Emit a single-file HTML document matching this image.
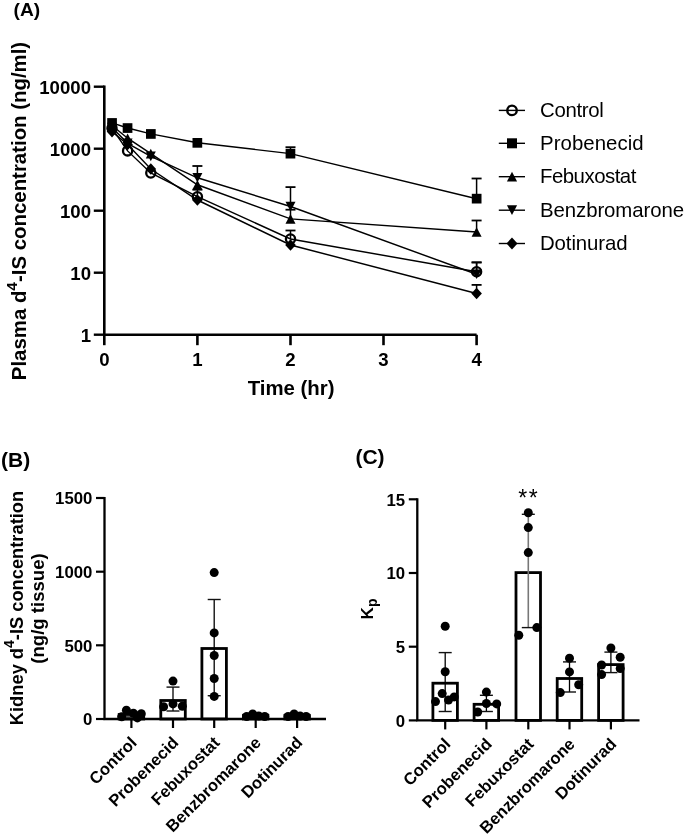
<!DOCTYPE html>
<html><head><meta charset="utf-8"><style>
html,body{margin:0;padding:0;background:#fff;}
svg{display:block;filter:grayscale(1);}
text{font-family:"Liberation Sans",sans-serif;}
</style></head><body>
<svg width="685" height="836" viewBox="0 0 685 836">
<rect width="685" height="836" fill="#fff"/>
<text x="13.5" y="16"  font-weight="bold" font-size="19.2">(A)</text>
<path d="M104.3,85.5 V334.8 H476.62" stroke="#000" stroke-width="2.6" fill="none" stroke-linejoin="miter"/>
<line x1="93.8" y1="86.7" x2="104.3" y2="86.7" stroke="#000" stroke-width="2.4"/>
<text x="91" y="93.8"  font-weight="bold" font-size="18.6" text-anchor="end">10000</text>
<line x1="93.8" y1="148.7" x2="104.3" y2="148.7" stroke="#000" stroke-width="2.4"/>
<text x="91" y="155.8"  font-weight="bold" font-size="18.6" text-anchor="end">1000</text>
<line x1="93.8" y1="210.7" x2="104.3" y2="210.7" stroke="#000" stroke-width="2.4"/>
<text x="91" y="217.8"  font-weight="bold" font-size="18.6" text-anchor="end">100</text>
<line x1="93.8" y1="272.7" x2="104.3" y2="272.7" stroke="#000" stroke-width="2.4"/>
<text x="91" y="279.8"  font-weight="bold" font-size="18.6" text-anchor="end">10</text>
<line x1="93.8" y1="334.7" x2="104.3" y2="334.7" stroke="#000" stroke-width="2.4"/>
<text x="91" y="341.8"  font-weight="bold" font-size="18.6" text-anchor="end">1</text>
<line x1="104.3" y1="334.8" x2="104.3" y2="345.2" stroke="#000" stroke-width="2.6"/>
<text x="104.3" y="366.4"  font-weight="bold" font-size="18.6" text-anchor="middle">0</text>
<line x1="197.4" y1="334.8" x2="197.4" y2="345.2" stroke="#000" stroke-width="2.6"/>
<text x="197.4" y="366.4"  font-weight="bold" font-size="18.6" text-anchor="middle">1</text>
<line x1="290.5" y1="334.8" x2="290.5" y2="345.2" stroke="#000" stroke-width="2.6"/>
<text x="290.5" y="366.4"  font-weight="bold" font-size="18.6" text-anchor="middle">2</text>
<line x1="383.5" y1="334.8" x2="383.5" y2="345.2" stroke="#000" stroke-width="2.6"/>
<text x="383.5" y="366.4"  font-weight="bold" font-size="18.6" text-anchor="middle">3</text>
<line x1="476.6" y1="334.8" x2="476.6" y2="345.2" stroke="#000" stroke-width="2.6"/>
<text x="476.6" y="366.4"  font-weight="bold" font-size="18.6" text-anchor="middle">4</text>
<text x="291.1" y="395.4"  font-weight="bold" font-size="20.4" text-anchor="middle">Time (hr)</text>
<text transform="translate(26.4,211) rotate(-90)"  font-weight="bold" font-size="20.4" text-anchor="middle">Plasma d<tspan font-size="15.5" dy="-9.5">4</tspan><tspan dy="9.5">-IS concentration (ng/ml)</tspan></text>
<line x1="476.6" y1="293.5" x2="476.6" y2="284.9" stroke="#000" stroke-width="1.5"/>
<line x1="471.6" y1="284.9" x2="481.6" y2="284.9" stroke="#000" stroke-width="1.8"/>
<line x1="197.4" y1="196.7" x2="197.4" y2="189.7" stroke="#000" stroke-width="1.5"/>
<line x1="192.4" y1="189.7" x2="202.4" y2="189.7" stroke="#000" stroke-width="1.8"/>
<line x1="290.5" y1="239.0" x2="290.5" y2="230.5" stroke="#000" stroke-width="1.5"/>
<line x1="285.5" y1="230.5" x2="295.5" y2="230.5" stroke="#000" stroke-width="1.8"/>
<line x1="476.6" y1="271.7" x2="476.6" y2="262.4" stroke="#000" stroke-width="1.5"/>
<line x1="471.6" y1="262.4" x2="481.6" y2="262.4" stroke="#000" stroke-width="1.8"/>
<line x1="197.4" y1="177.8" x2="197.4" y2="166.0" stroke="#000" stroke-width="1.5"/>
<line x1="192.4" y1="166.0" x2="202.4" y2="166.0" stroke="#000" stroke-width="1.8"/>
<line x1="290.5" y1="206.5" x2="290.5" y2="187.1" stroke="#000" stroke-width="1.5"/>
<line x1="285.5" y1="187.1" x2="295.5" y2="187.1" stroke="#000" stroke-width="1.8"/>
<line x1="476.6" y1="274.3" x2="476.6" y2="262.4" stroke="#000" stroke-width="1.5"/>
<line x1="471.6" y1="262.4" x2="481.6" y2="262.4" stroke="#000" stroke-width="1.8"/>
<line x1="290.5" y1="218.9" x2="290.5" y2="209.7" stroke="#000" stroke-width="1.5"/>
<line x1="285.5" y1="209.7" x2="295.5" y2="209.7" stroke="#000" stroke-width="1.8"/>
<line x1="476.6" y1="232.0" x2="476.6" y2="220.5" stroke="#000" stroke-width="1.5"/>
<line x1="471.6" y1="220.5" x2="481.6" y2="220.5" stroke="#000" stroke-width="1.8"/>
<line x1="290.5" y1="153.6" x2="290.5" y2="147.2" stroke="#000" stroke-width="1.5"/>
<line x1="285.5" y1="147.2" x2="295.5" y2="147.2" stroke="#000" stroke-width="1.8"/>
<line x1="476.6" y1="198.7" x2="476.6" y2="178.5" stroke="#000" stroke-width="1.5"/>
<line x1="471.6" y1="178.5" x2="481.6" y2="178.5" stroke="#000" stroke-width="1.8"/>
<polyline points="112.0,131.6 127.6,144.5 150.8,169.0 197.4,200.0 290.5,245.0 476.6,293.5" fill="none" stroke="#000" stroke-width="1.45"/>
<polyline points="112.0,128.3 127.6,150.9 150.8,173.0 197.4,196.7 290.5,239.0 476.6,271.7" fill="none" stroke="#000" stroke-width="1.45"/>
<polyline points="112.0,127.5 127.6,143.3 150.8,156.4 197.4,177.8 290.5,206.5 476.6,274.3" fill="none" stroke="#000" stroke-width="1.45"/>
<polyline points="112.0,125.5 127.6,138.2 150.8,153.6 197.4,184.8 290.5,218.9 476.6,232.0" fill="none" stroke="#000" stroke-width="1.45"/>
<polyline points="112.0,122.9 127.6,128.0 150.8,133.9 197.4,142.8 290.5,153.6 476.6,198.7" fill="none" stroke="#000" stroke-width="1.45"/>
<path d="M112.0,125.8 L117.3,131.6 L112.0,137.4 L106.7,131.6Z" fill="#000"/>
<path d="M127.6,138.7 L132.9,144.5 L127.6,150.3 L122.3,144.5Z" fill="#000"/>
<path d="M150.8,163.2 L156.1,169.0 L150.8,174.8 L145.5,169.0Z" fill="#000"/>
<path d="M197.4,194.2 L202.7,200.0 L197.4,205.8 L192.1,200.0Z" fill="#000"/>
<path d="M290.5,239.2 L295.8,245.0 L290.5,250.8 L285.2,245.0Z" fill="#000"/>
<path d="M476.6,287.7 L481.9,293.5 L476.6,299.3 L471.3,293.5Z" fill="#000"/>
<circle cx="112.0" cy="128.3" r="4.60" fill="none" stroke="#000" stroke-width="2.30"/>
<circle cx="127.6" cy="150.9" r="4.60" fill="none" stroke="#000" stroke-width="2.30"/>
<circle cx="150.8" cy="173.0" r="4.60" fill="none" stroke="#000" stroke-width="2.30"/>
<circle cx="197.4" cy="196.7" r="4.60" fill="none" stroke="#000" stroke-width="2.30"/>
<circle cx="290.5" cy="239.0" r="4.60" fill="none" stroke="#000" stroke-width="2.30"/>
<circle cx="476.6" cy="271.7" r="4.60" fill="none" stroke="#000" stroke-width="2.30"/>
<path d="M112.0,132.3 L117.0,122.7 L107.0,122.7Z" fill="#000"/>
<path d="M127.6,148.1 L132.6,138.5 L122.6,138.5Z" fill="#000"/>
<path d="M150.8,161.2 L155.8,151.6 L145.8,151.6Z" fill="#000"/>
<path d="M197.4,182.6 L202.4,173.0 L192.4,173.0Z" fill="#000"/>
<path d="M290.5,211.3 L295.5,201.7 L285.5,201.7Z" fill="#000"/>
<path d="M476.6,279.1 L481.6,269.5 L471.6,269.5Z" fill="#000"/>
<path d="M112.0,120.7 L117.0,130.3 L107.0,130.3Z" fill="#000"/>
<path d="M127.6,133.4 L132.6,143.0 L122.6,143.0Z" fill="#000"/>
<path d="M150.8,148.8 L155.8,158.4 L145.8,158.4Z" fill="#000"/>
<path d="M197.4,180.0 L202.4,189.6 L192.4,189.6Z" fill="#000"/>
<path d="M290.5,214.1 L295.5,223.7 L285.5,223.7Z" fill="#000"/>
<path d="M476.6,227.2 L481.6,236.8 L471.6,236.8Z" fill="#000"/>
<rect x="107.2" y="118.1" width="9.7" height="9.7" fill="#000"/>
<rect x="122.7" y="123.2" width="9.7" height="9.7" fill="#000"/>
<rect x="146.0" y="129.1" width="9.7" height="9.7" fill="#000"/>
<rect x="192.5" y="138.0" width="9.7" height="9.7" fill="#000"/>
<rect x="285.6" y="148.8" width="9.7" height="9.7" fill="#000"/>
<rect x="471.8" y="193.8" width="9.7" height="9.7" fill="#000"/>
<line x1="498.8" y1="110.4" x2="525" y2="110.4" stroke="#000" stroke-width="1.4"/>
<circle cx="512.0" cy="110.4" r="4.74" fill="none" stroke="#000" stroke-width="2.37"/>
<text x="540" y="116.7"  font-size="20.4" textLength="63.8" lengthAdjust="spacing">Control</text>
<line x1="498.8" y1="143.3" x2="525" y2="143.3" stroke="#000" stroke-width="1.4"/>
<rect x="507.0" y="138.3" width="10.0" height="10.0" fill="#000"/>
<text x="540" y="149.6"  font-size="20.4" textLength="103.7" lengthAdjust="spacing">Probenecid</text>
<line x1="498.8" y1="176.7" x2="525" y2="176.7" stroke="#000" stroke-width="1.4"/>
<path d="M512.0,171.8 L517.1,181.6 L506.9,181.6Z" fill="#000"/>
<text x="540" y="183.0"  font-size="20.4" textLength="96.3" lengthAdjust="spacing">Febuxostat</text>
<line x1="498.8" y1="210.2" x2="525" y2="210.2" stroke="#000" stroke-width="1.4"/>
<path d="M512.0,215.1 L517.1,205.3 L506.9,205.3Z" fill="#000"/>
<text x="540" y="216.5"  font-size="20.4" textLength="144.1" lengthAdjust="spacing">Benzbromarone</text>
<line x1="498.8" y1="243.5" x2="525" y2="243.5" stroke="#000" stroke-width="1.4"/>
<path d="M512.0,237.5 L517.5,243.5 L512.0,249.5 L506.5,243.5Z" fill="#000"/>
<text x="540" y="249.8"  font-size="20.4" textLength="87.5" lengthAdjust="spacing">Dotinurad</text>
<text x="1" y="466.5"  font-weight="bold" font-size="21">(B)</text>
<rect x="119.2" y="714.5" width="24.5" height="4.5" fill="#fff" stroke="#000" stroke-width="2.8"/>
<rect x="160.8" y="700.5" width="24.5" height="18.5" fill="#fff" stroke="#000" stroke-width="2.8"/>
<rect x="201.9" y="648.5" width="24.5" height="70.5" fill="#fff" stroke="#000" stroke-width="2.8"/>
<rect x="243.4" y="715.5" width="24.5" height="3.5" fill="#fff" stroke="#000" stroke-width="2.8"/>
<rect x="284.9" y="715.5" width="24.5" height="3.5" fill="#fff" stroke="#000" stroke-width="2.8"/>
<line x1="131.4" y1="712.0" x2="131.4" y2="717.0" stroke="#000" stroke-width="1.3"/>
<line x1="124.9" y1="712.0" x2="137.9" y2="712.0" stroke="#111" stroke-width="1.4"/>
<line x1="124.9" y1="717.0" x2="137.9" y2="717.0" stroke="#111" stroke-width="1.4"/>
<circle cx="121.7" cy="716.7" r="4.5" fill="#000"/>
<circle cx="126.4" cy="710.3" r="4.5" fill="#000"/>
<circle cx="133.4" cy="713.2" r="4.5" fill="#000"/>
<circle cx="137.4" cy="717.9" r="4.5" fill="#000"/>
<circle cx="141.3" cy="713.8" r="4.5" fill="#000"/>
<line x1="173.0" y1="687.1" x2="173.0" y2="711.0" stroke="#000" stroke-width="1.3"/>
<line x1="166.5" y1="687.1" x2="179.5" y2="687.1" stroke="#111" stroke-width="1.4"/>
<line x1="166.5" y1="711.0" x2="179.5" y2="711.0" stroke="#111" stroke-width="1.4"/>
<circle cx="173.0" cy="681.1" r="4.5" fill="#000"/>
<circle cx="163.6" cy="706.8" r="4.5" fill="#000"/>
<circle cx="173.0" cy="703.9" r="4.5" fill="#000"/>
<circle cx="182.3" cy="706.2" r="4.5" fill="#000"/>
<line x1="214.2" y1="599.5" x2="214.2" y2="695.7" stroke="#000" stroke-width="1.3"/>
<line x1="207.7" y1="599.5" x2="220.7" y2="599.5" stroke="#111" stroke-width="1.4"/>
<line x1="207.7" y1="695.7" x2="220.7" y2="695.7" stroke="#111" stroke-width="1.4"/>
<circle cx="214.2" cy="572.6" r="4.5" fill="#000"/>
<circle cx="214.2" cy="632.9" r="4.5" fill="#000"/>
<circle cx="214.2" cy="655.5" r="4.5" fill="#000"/>
<circle cx="214.2" cy="678.5" r="4.5" fill="#000"/>
<circle cx="214.2" cy="696.4" r="4.5" fill="#000"/>
<line x1="255.7" y1="714.0" x2="255.7" y2="717.0" stroke="#000" stroke-width="1.3"/>
<line x1="249.2" y1="714.0" x2="262.2" y2="714.0" stroke="#111" stroke-width="1.4"/>
<line x1="249.2" y1="717.0" x2="262.2" y2="717.0" stroke="#111" stroke-width="1.4"/>
<circle cx="246.7" cy="716.5" r="4.5" fill="#000"/>
<circle cx="252.7" cy="714.0" r="4.5" fill="#000"/>
<circle cx="258.7" cy="716.0" r="4.5" fill="#000"/>
<circle cx="264.7" cy="716.5" r="4.5" fill="#000"/>
<line x1="297.1" y1="714.0" x2="297.1" y2="717.0" stroke="#000" stroke-width="1.3"/>
<line x1="290.6" y1="714.0" x2="303.6" y2="714.0" stroke="#111" stroke-width="1.4"/>
<line x1="290.6" y1="717.0" x2="303.6" y2="717.0" stroke="#111" stroke-width="1.4"/>
<circle cx="288.1" cy="716.5" r="4.5" fill="#000"/>
<circle cx="294.1" cy="714.0" r="4.5" fill="#000"/>
<circle cx="300.1" cy="716.0" r="4.5" fill="#000"/>
<circle cx="306.1" cy="716.5" r="4.5" fill="#000"/>
<path d="M104.5,497 V719 H326" stroke="#000" stroke-width="2.3" fill="none"/>
<line x1="96.0" y1="719.0" x2="104.5" y2="719.0" stroke="#000" stroke-width="2.2"/>
<text x="92.4" y="725.2"  font-weight="bold" font-size="16.8" text-anchor="end">0</text>
<line x1="96.0" y1="645.3" x2="104.5" y2="645.3" stroke="#000" stroke-width="2.2"/>
<text x="92.4" y="651.5"  font-weight="bold" font-size="16.8" text-anchor="end">500</text>
<line x1="96.0" y1="571.7" x2="104.5" y2="571.7" stroke="#000" stroke-width="2.2"/>
<text x="92.4" y="577.9"  font-weight="bold" font-size="16.8" text-anchor="end">1000</text>
<line x1="96.0" y1="498.0" x2="104.5" y2="498.0" stroke="#000" stroke-width="2.2"/>
<text x="92.4" y="504.2"  font-weight="bold" font-size="16.8" text-anchor="end">1500</text>
<line x1="131.4" y1="719" x2="131.4" y2="728" stroke="#000" stroke-width="2.2"/>
<text transform="translate(137.8,743.7) rotate(-45)"  font-weight="bold" font-size="16.6" text-anchor="end">Control</text>
<line x1="173.0" y1="719" x2="173.0" y2="728" stroke="#000" stroke-width="2.2"/>
<text transform="translate(179.4,743.7) rotate(-45)"  font-weight="bold" font-size="16.6" text-anchor="end">Probenecid</text>
<line x1="214.2" y1="719" x2="214.2" y2="728" stroke="#000" stroke-width="2.2"/>
<text transform="translate(220.6,743.7) rotate(-45)"  font-weight="bold" font-size="16.6" text-anchor="end">Febuxostat</text>
<line x1="255.7" y1="719" x2="255.7" y2="728" stroke="#000" stroke-width="2.2"/>
<text transform="translate(262.1,743.7) rotate(-45)"  font-weight="bold" font-size="16.6" text-anchor="end">Benzbromarone</text>
<line x1="297.1" y1="719" x2="297.1" y2="728" stroke="#000" stroke-width="2.2"/>
<text transform="translate(303.5,743.7) rotate(-45)"  font-weight="bold" font-size="16.6" text-anchor="end">Dotinurad</text>
<text transform="translate(22.9,608) rotate(-90)"  font-weight="bold" font-size="18.3" text-anchor="middle">Kidney d<tspan font-size="14" dy="-8.6">4</tspan><tspan dy="8.6">-IS concentration</tspan></text><text transform="translate(44,608.5) rotate(-90)"  font-weight="bold" font-size="18.6" text-anchor="middle">(ng/g tissue)</text>
<text x="355.4" y="464"  font-weight="bold" font-size="21">(C)</text>
<rect x="432.9" y="683.2" width="24.5" height="37.2" fill="#fff" stroke="#000" stroke-width="2.8"/>
<rect x="474.1" y="704.3" width="24.5" height="16.1" fill="#fff" stroke="#000" stroke-width="2.8"/>
<rect x="516.0" y="572.6" width="24.5" height="147.8" fill="#fff" stroke="#000" stroke-width="2.8"/>
<rect x="557.2" y="678.5" width="24.5" height="41.9" fill="#fff" stroke="#000" stroke-width="2.8"/>
<rect x="598.6" y="664.6" width="24.5" height="55.8" fill="#fff" stroke="#000" stroke-width="2.8"/>
<line x1="445.2" y1="652.6" x2="445.2" y2="711.5" stroke="#000" stroke-width="1.3"/>
<line x1="438.7" y1="652.6" x2="451.7" y2="652.6" stroke="#111" stroke-width="1.4"/>
<line x1="438.7" y1="711.5" x2="451.7" y2="711.5" stroke="#111" stroke-width="1.4"/>
<circle cx="445.2" cy="626.3" r="4.5" fill="#000"/>
<circle cx="445.2" cy="671.8" r="4.5" fill="#000"/>
<circle cx="442.2" cy="693.6" r="4.5" fill="#000"/>
<circle cx="435.5" cy="701.6" r="4.5" fill="#000"/>
<circle cx="448.5" cy="700.1" r="4.5" fill="#000"/>
<circle cx="454.2" cy="696.9" r="4.5" fill="#000"/>
<line x1="486.4" y1="695.3" x2="486.4" y2="711.5" stroke="#000" stroke-width="1.3"/>
<line x1="479.9" y1="695.3" x2="492.9" y2="695.3" stroke="#111" stroke-width="1.4"/>
<line x1="479.9" y1="711.5" x2="492.9" y2="711.5" stroke="#111" stroke-width="1.4"/>
<circle cx="486.4" cy="692.1" r="4.5" fill="#000"/>
<circle cx="486.4" cy="703.5" r="4.5" fill="#000"/>
<circle cx="496.7" cy="703.9" r="4.5" fill="#000"/>
<circle cx="477.7" cy="712.0" r="4.5" fill="#000"/>
<line x1="528.3" y1="514.3" x2="528.3" y2="627.6" stroke="#777" stroke-width="1.6"/>
<line x1="521.8" y1="514.3" x2="534.8" y2="514.3" stroke="#111" stroke-width="1.4"/>
<line x1="521.8" y1="627.6" x2="534.8" y2="627.6" stroke="#111" stroke-width="1.4"/>
<circle cx="528.3" cy="512.7" r="4.5" fill="#000"/>
<circle cx="528.3" cy="527.6" r="4.5" fill="#000"/>
<circle cx="528.3" cy="552.6" r="4.5" fill="#000"/>
<circle cx="518.8" cy="635.2" r="4.5" fill="#000"/>
<circle cx="536.8" cy="627.6" r="4.5" fill="#000"/>
<line x1="569.5" y1="661.9" x2="569.5" y2="692.0" stroke="#000" stroke-width="1.3"/>
<line x1="563.0" y1="661.9" x2="576.0" y2="661.9" stroke="#111" stroke-width="1.4"/>
<line x1="563.0" y1="692.0" x2="576.0" y2="692.0" stroke="#111" stroke-width="1.4"/>
<circle cx="569.5" cy="658.2" r="4.5" fill="#000"/>
<circle cx="569.5" cy="671.9" r="4.5" fill="#000"/>
<circle cx="578.7" cy="684.8" r="4.5" fill="#000"/>
<circle cx="560.3" cy="692.6" r="4.5" fill="#000"/>
<line x1="610.9" y1="652.1" x2="610.9" y2="672.6" stroke="#000" stroke-width="1.3"/>
<line x1="604.4" y1="652.1" x2="617.4" y2="652.1" stroke="#111" stroke-width="1.4"/>
<line x1="604.4" y1="672.6" x2="617.4" y2="672.6" stroke="#111" stroke-width="1.4"/>
<circle cx="610.9" cy="648.0" r="4.5" fill="#000"/>
<circle cx="620.2" cy="657.2" r="4.5" fill="#000"/>
<circle cx="601.6" cy="665.0" r="4.5" fill="#000"/>
<circle cx="620.2" cy="668.5" r="4.5" fill="#000"/>
<circle cx="601.6" cy="674.6" r="4.5" fill="#000"/>
<path d="M417.3,498.3 V720.4 H639.5" stroke="#000" stroke-width="2.3" fill="none"/>
<line x1="408.8" y1="720.4" x2="417.3" y2="720.4" stroke="#000" stroke-width="2.2"/>
<text x="405.2" y="726.6"  font-weight="bold" font-size="16.8" text-anchor="end">0</text>
<line x1="408.8" y1="646.7" x2="417.3" y2="646.7" stroke="#000" stroke-width="2.2"/>
<text x="405.2" y="652.9"  font-weight="bold" font-size="16.8" text-anchor="end">5</text>
<line x1="408.8" y1="573.0" x2="417.3" y2="573.0" stroke="#000" stroke-width="2.2"/>
<text x="405.2" y="579.2"  font-weight="bold" font-size="16.8" text-anchor="end">10</text>
<line x1="408.8" y1="499.3" x2="417.3" y2="499.3" stroke="#000" stroke-width="2.2"/>
<text x="405.2" y="505.5"  font-weight="bold" font-size="16.8" text-anchor="end">15</text>
<line x1="445.2" y1="720.4" x2="445.2" y2="729.4" stroke="#000" stroke-width="2.2"/>
<text transform="translate(451.6,745.1) rotate(-45)"  font-weight="bold" font-size="16.6" text-anchor="end">Control</text>
<line x1="486.4" y1="720.4" x2="486.4" y2="729.4" stroke="#000" stroke-width="2.2"/>
<text transform="translate(492.8,745.1) rotate(-45)"  font-weight="bold" font-size="16.6" text-anchor="end">Probenecid</text>
<line x1="528.3" y1="720.4" x2="528.3" y2="729.4" stroke="#000" stroke-width="2.2"/>
<text transform="translate(534.7,745.1) rotate(-45)"  font-weight="bold" font-size="16.6" text-anchor="end">Febuxostat</text>
<line x1="569.5" y1="720.4" x2="569.5" y2="729.4" stroke="#000" stroke-width="2.2"/>
<text transform="translate(575.9,745.1) rotate(-45)"  font-weight="bold" font-size="16.6" text-anchor="end">Benzbromarone</text>
<line x1="610.9" y1="720.4" x2="610.9" y2="729.4" stroke="#000" stroke-width="2.2"/>
<text transform="translate(617.3,745.1) rotate(-45)"  font-weight="bold" font-size="16.6" text-anchor="end">Dotinurad</text>
<text transform="translate(372.7,619.5) rotate(-90)"  font-weight="bold" font-size="17.2">K<tspan font-size="14" dy="4.3">p</tspan></text><text x="522.8" y="506.2"  font-size="23" text-anchor="middle">*</text><text x="533.3" y="506.2"  font-size="23" text-anchor="middle">*</text>
</svg>
</body></html>
